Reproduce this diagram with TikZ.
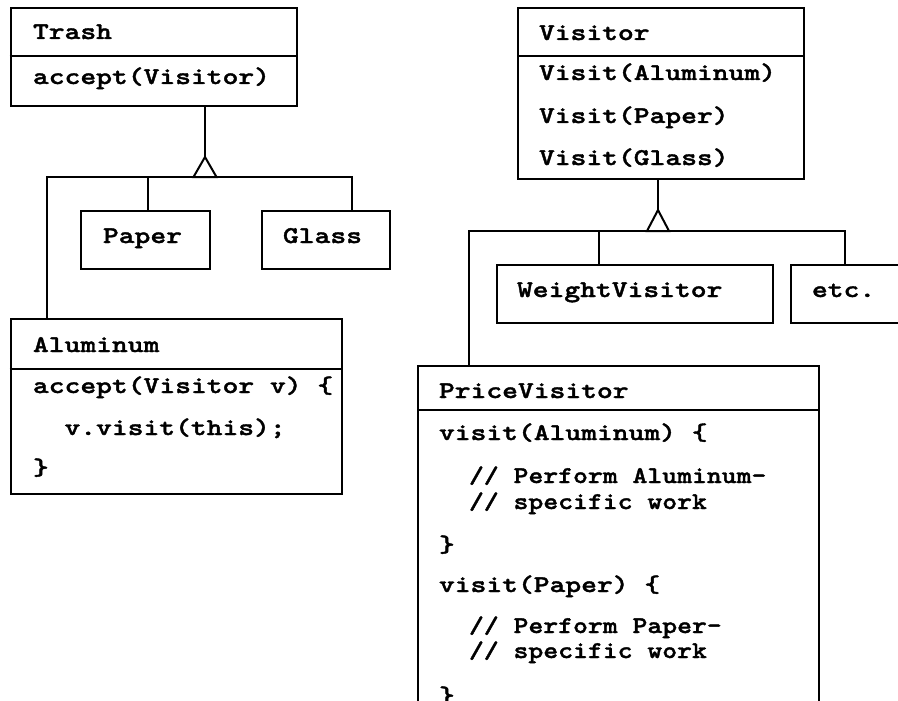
\documentclass[tikz,border=0pt]{standalone}
\usepackage{fontspec}
\usetikzlibrary{calc}
\newfontfamily\codefont{lmmonolt10-bold.otf}[FakeStretch=1.254,FakeBold=1.6]
\newfontfamily\commfont{lmmonolt10-bold.otf}[FakeStretch=1.18,FakeBold=1.6]
\begin{document}
\begin{tikzpicture}[x=1pt,y=-1pt,line width=2pt,
  box/.style={draw,line width=2pt,rectangle,inner sep=0pt,anchor=north west},
  txt/.style={anchor=base west,inner sep=0pt,font=\fontsize{24}{24}\selectfont\codefont},
  cmt/.style={anchor=base west,inner sep=0pt,font=\fontsize{24}{24}\selectfont\commfont},
  wire/.style={draw,line width=2pt,line cap=rect},
  inh/.style={draw,line width=2pt,fill=white,line join=miter}]
\useasboundingbox (0,0) rectangle (898,701);
\clip (0,0) rectangle (898,701);
% ---- left hierarchy ----
\node[box,minimum width=286pt,minimum height=98pt] (trash) at (9.5,7) {};
\draw (trash.west |- 0,56) -- (trash.east |- 0,56);
\node[txt] (trashT) at (32,39) {Trash};
\node[txt] (trashM) at (32,84) {accept(Visitor)};

\node[box,minimum width=129pt,minimum height=58pt] (paper) at (80,210) {};
\node[txt] (paperT) at (102,243) {Paper};
\node[box,minimum width=128pt,minimum height=58pt] (glass) at (261,210) {};
\node[txt] (glassT) at (282,243) {Glass};

\node[box,minimum width=331pt,minimum height=175pt] (alum) at (9.5,318) {};
\draw (alum.west |- 0,369) -- (alum.east |- 0,369);
\node[txt] (alumT) at (32,352) {Aluminum};
\node[txt] (alumM1) at (32,393) {accept(Visitor v) \{};
\node[txt] (alumM2) at (63.5,435) {v.visit(this);};
\node[txt] (alumM3) at (32,475) {\}};

\coordinate (tapex) at (205,157);
\coordinate (tbar) at (205,177);
\draw[wire] (trash.south -| tapex) -- (tapex);
\draw[wire] (alum.north west -| 47,0) -- (47,177) -- (352,177) -- (glass.north -| 352,0);
\draw[wire] (paper.north -| 148,0) -- (148,177);
\draw[inh] (tapex) -- ($(tbar)+(-11.5,0)$) -- ($(tbar)+(11.5,0)$) -- cycle;

% ---- right hierarchy ----
\node[box,minimum width=286pt,minimum height=171pt] (visitor) at (517,7) {};
\draw (visitor.west |- 0,56) -- (visitor.east |- 0,56);
\node[txt] (visT) at (538,40) {Visitor};
\node[txt] (visM1) at (538,80) {Visit(Aluminum)};
\node[txt] (visM2) at (538,123) {Visit(Paper)};
\node[txt] (visM3) at (538,165) {Visit(Glass)};

\node[box,minimum width=276pt,minimum height=58pt] (weight) at (496,264) {};
\node[txt] (weightT) at (516,297) {WeightVisitor};
\node[box,minimum width=150pt,minimum height=58pt] (etc) at (790,264) {};
\node[txt] (etcT) at (811,297) {etc.};

\node[box,minimum width=401pt,minimum height=400pt] (price) at (417,365) {};
\draw (price.west |- 0,410) -- (price.east |- 0,410);
\node[txt] (priceT) at (438,398) {PriceVisitor};
\node[txt] (p1) at (438,440) {visit(Aluminum) \{};
\node[cmt] (p2) at (468,483) {// Perform Aluminum-};
\node[cmt] (p3) at (468,509) {// specific work};
\node[txt] (p4) at (438,552) {\}};
\node[txt] (p5) at (438,592) {visit(Paper) \{};
\node[cmt] (p6) at (468,633) {// Perform Paper-};
\node[cmt] (p7) at (468,658) {// specific work};
\node[txt] (p8) at (438,703) {\}};

\coordinate (vapex) at (658,210);
\coordinate (vbar) at (658,231);
\draw[wire] (visitor.south -| vapex) -- (vapex);
\draw[wire] (price.north west -| 469,0) -- (469,231) -- (845,231) -- (etc.north -| 845,0);
\draw[wire] (weight.north -| 599,0) -- (599,231);
\draw[inh] (vapex) -- ($(vbar)+(-11,0)$) -- ($(vbar)+(11,0)$) -- cycle;
\end{tikzpicture}
\end{document}
